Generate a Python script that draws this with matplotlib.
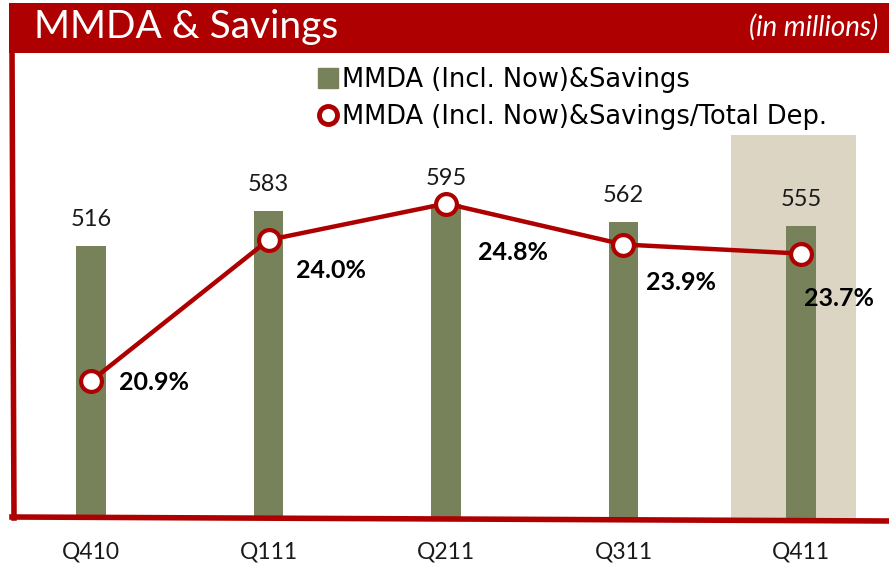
import matplotlib
matplotlib.use("Agg")
import matplotlib.pyplot as plt
from matplotlib.lines import Line2D
from matplotlib.patches import Rectangle

quarters = ["Q410", "Q111", "Q211", "Q311", "Q411"]
balances = [516, 583, 595, 562, 555]
ratio_pct = [20.9, 24.0, 24.8, 23.9, 23.7]
ratio_labels = ["20.9%", "24.0%", "24.8%", "23.9%", "23.7%"]
highlight_idx = 4

# label offsets (points) for percentage labels, styling only
pct_offsets = [(20, -1), (20, -22), (23, -35), (16, -27), (2, -32)]

RED = "#AE0000"
GREEN = "#78825A"
BEIGE = "#DDD5C4"

plt.rcParams['font.family'] = ['Lato', 'DejaVu Sans']

W, H = 889, 569
fig = plt.figure(figsize=(W / 100, H / 100), dpi=100)
fig.patch.set_facecolor("white")

def fx(px):
    return px / W

def fy(py):
    return 1 - py / H

ax_left, ax_right, ax_top, ax_bot = 12, 889, 53, 518
ax = fig.add_axes([fx(ax_left), fy(ax_bot), fx(ax_right - ax_left), (ax_bot - ax_top) / H])
ax.set_facecolor("none")
x = list(range(len(quarters)))
xl = (ax_left - 91) / 177.5
xr = (ax_right - 91) / 177.5
ax.set_xlim(xl, xr)
ax.set_ylim(0, (ax_bot - ax_top) / 0.527)

# highlight
ax.add_patch(Rectangle((highlight_idx - 0.395, 0), 0.705, (ax_bot - 135) / 0.527,
                       facecolor=BEIGE, edgecolor="none", zorder=0))

ax.bar(x, balances, width=0.165, color=GREEN, zorder=2)
for xi, v in zip(x, balances):
    ax.annotate(str(v), (xi, v), xytext=(0, 19), textcoords="offset points",
                ha="center", va="center", fontsize=17, color="#1a1a1a", zorder=5)

for s in ax.spines.values():
    s.set_visible(False)
ax.set_yticks([])
ax.set_xticks(x)
ax.set_xticklabels(quarters, fontsize=16.5, color="#1a1a1a")
ax.tick_params(axis="x", length=0, pad=17)

ax2 = ax.twinx()
ax2.set_facecolor("none")
for s in ax2.spines.values():
    s.set_visible(False)
ax2.set_yticks([])
pb = 20.9 - (ax_bot - 381) / 45.5
ax2.set_ylim(pb, pb + (ax_bot - ax_top) / 45.5)
ax2.plot(x, ratio_pct, color=RED, lw=3.2, marker="o", markersize=15,
         markerfacecolor="white", markeredgecolor=RED, markeredgewidth=3, zorder=4)
for xi, v, lab, off in zip(x, ratio_pct, ratio_labels, pct_offsets):
    ax2.annotate(lab, (xi, v), xytext=off, textcoords="offset points",
                 ha="left", va="center", fontsize=18, fontweight="bold",
                 color="black", zorder=6)

# title bar
fig.add_artist(Rectangle((fx(9), fy(53)), fx(880), 50 / H, transform=fig.transFigure,
                         facecolor=RED, edgecolor="none", zorder=1))
fig.text(fx(34), fy(27), "MMDA & Savings", color="white", fontsize=28,
         ha="left", va="center", zorder=3)
fig.text(fx(878), fy(27), "(in millions)", color="white", fontsize=20,
         style="italic", ha="right", va="center", zorder=3)

# border lines
fig.add_artist(Line2D([fx(12), fx(14)], [fy(50), fy(518)], transform=fig.transFigure,
                      color=RED, lw=4, zorder=1))
fig.add_artist(Line2D([fx(12), fx(889)], [fy(517), fy(521)], transform=fig.transFigure,
                      color=RED, lw=4, zorder=1))

# legend
handles = [
    Line2D([], [], marker="s", linestyle="none", markersize=15,
           markerfacecolor=GREEN, markeredgecolor=GREEN),
    Line2D([], [], marker="o", linestyle="none", markersize=13,
           markerfacecolor="white", markeredgecolor=RED, markeredgewidth=3.5),
]
labels = ["MMDA (Incl. Now)&Savings", "MMDA (Incl. Now)&Savings/Total Dep."]
fig.legend(handles, labels, loc="upper left", bbox_to_anchor=(fx(318), fy(67)),
           frameon=False, prop={"family": ["DejaVu Sans"], "size": 18.5},
           handlelength=0.8, handletextpad=0.15,
           labelspacing=0.42, borderaxespad=0, borderpad=0)

fig.savefig("out.png", dpi=100)
